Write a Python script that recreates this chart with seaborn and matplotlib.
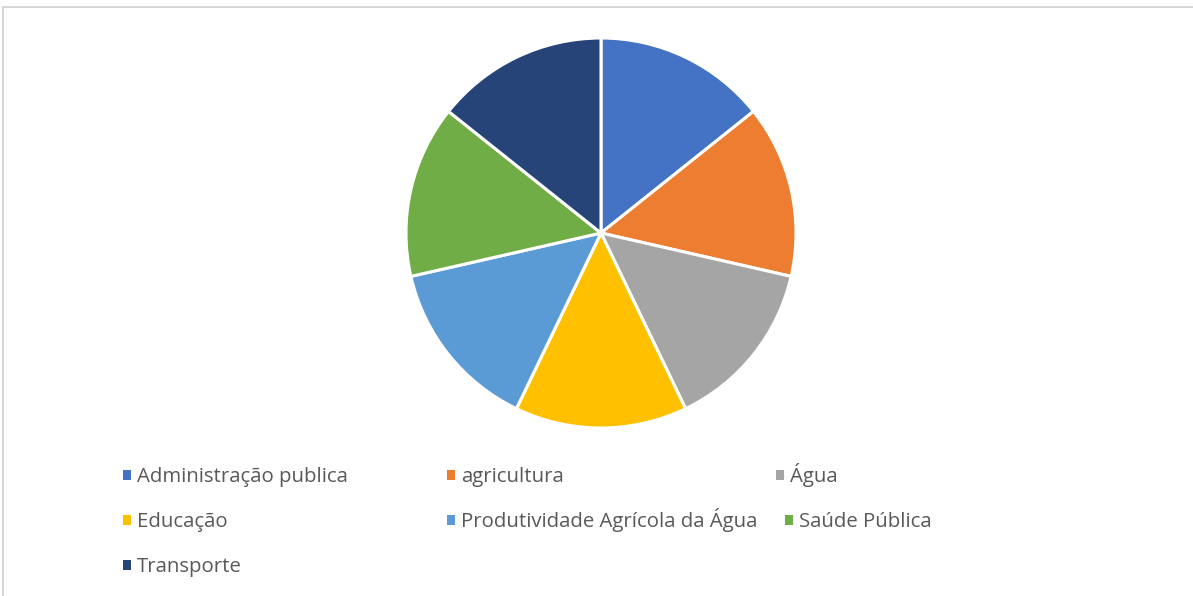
import matplotlib
matplotlib.use("Agg")
import matplotlib.pyplot as plt
from matplotlib.patches import Patch, Rectangle
import seaborn as sns

# Data
categories = ["Administração publica", "agricultura", "Água", "Educação",
              "Produtividade Agrícola da Água", "Saúde Pública", "Transporte"]
values = [1, 1, 1, 1, 1, 1, 1]
colors = ["#4472C4", "#ED7D31", "#A5A5A5", "#FFC000", "#5B9BD5", "#70AD47", "#264478"]

# legend entry positions (pixels from left / top), as laid out by the original chart
legend_x = [123, 447, 776, 123, 447, 785, 123]
legend_y = [487, 487, 487, 532, 532, 532, 577]

sns.set_theme(style="white")
plt.rcParams['font.family'] = ['Open Sans', 'DejaVu Sans']
palette = sns.color_palette(colors)

W, H = 1193, 596
fig = plt.figure(figsize=(W / 100, H / 100), dpi=100)

# frame of the chart area (cropped on right and bottom)
fig.add_artist(Rectangle((3 / W, -0.1), 1.2, 1.1 - 7 / H, transform=fig.transFigure,
                         fill=False, edgecolor="#d0d0d0", linewidth=1.2))

# pie: center (601, 233), radius 195 px
cx, cy, r = 601, 233, 195
ax = fig.add_axes([(cx - r) / W, 1 - (cy + r) / H, 2 * r / W, 2 * r / H])
ax.pie(values, colors=palette, startangle=90, counterclock=False,
       wedgeprops=dict(edgecolor="white", linewidth=2.2))
ax.set_xlim(-1.0, 1.0)
ax.set_ylim(-1.0, 1.0)
ax.set_aspect("equal")

# Legend: one entry per box so the rows line up like the original
for label, col, x, y in zip(categories, palette, legend_x, legend_y):
    fig.legend([Patch(facecolor=col, edgecolor="none")], [label],
               loc="lower left", bbox_to_anchor=(x / W, 1 - y / H),
               frameon=False, fontsize=14.7, handlelength=0.4, handleheight=0.4,
               handletextpad=0.3, borderpad=0, borderaxespad=0,
               labelcolor="#595959")

fig.savefig("out.png", dpi=100)
